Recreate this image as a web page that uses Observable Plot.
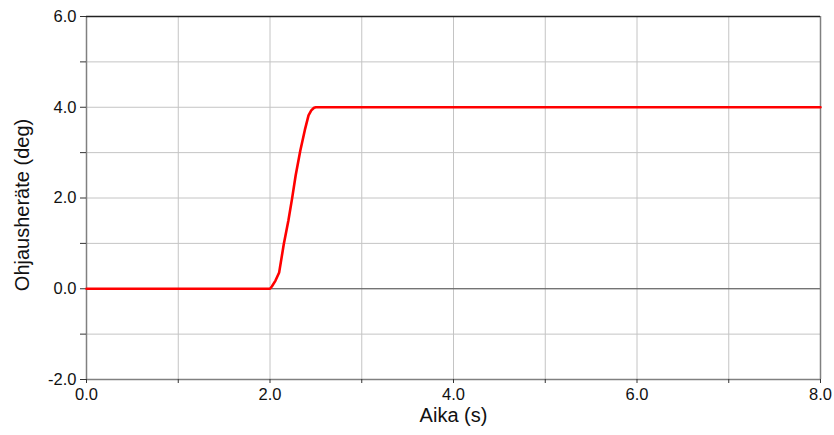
<!DOCTYPE html>
<html>
<head>
<meta charset="utf-8">
<script src="https://cdn.jsdelivr.net/npm/d3@7"></script>
<script src="https://cdn.jsdelivr.net/npm/@observablehq/plot@0.6"></script>
<style>
  html, body { margin: 0; padding: 0; background: #fff; }
  #chart svg { display: block; }
</style>
</head>
<body>
<div id="chart"></div>
<script>
// Data
const time  = [0.0, 1.0, 2.0, 2.02, 2.06, 2.10, 2.15, 2.20, 2.24, 2.28, 2.33, 2.38, 2.42, 2.45, 2.48, 2.50, 3.0, 5.0, 8.0];
const angle = [0.0, 0.0, 0.0, 0.05, 0.18, 0.36, 0.98, 1.5, 1.98, 2.5, 3.04, 3.5, 3.82, 3.93, 3.99, 4.0, 4.0, 4.0, 4.0];
const xTicks = [0, 1, 2, 3, 4, 5, 6, 7, 8];
const yTicks = [-2, -1, 0, 1, 2, 3, 4, 5, 6];
const xTickLabels = [0, 2, 4, 6, 8];
const yTickLabels = [-2, 0, 2, 4, 6];
const xLabel = "Aika (s)";
const yLabel = "Ohjausheräte (deg)";

const data = time.map((t, i) => ({t, v: angle[i]}));
const fmt = d => d.toFixed(1);

const chart = Plot.plot({
  width: 834,
  height: 435,
  marginLeft: 86,
  marginTop: 16,
  marginRight: 14,
  marginBottom: 56,
  style: {fontFamily: "'Liberation Sans', Arial, sans-serif", fontSize: "16.5px", color: "#000", background: "#fff"},
  x: {domain: [0, 8]},
  y: {domain: [-2, 6]},
  marks: [
    Plot.ruleX(xTicks, {stroke: "#c4c4c4", strokeWidth: 1}),
    Plot.ruleY(yTicks, {stroke: "#c4c4c4", strokeWidth: 1}),
    Plot.ruleY([0], {stroke: "#555", strokeWidth: 1}),
    Plot.ruleX([0], {stroke: "#808080", strokeWidth: 1.5}),
    Plot.ruleX([8], {stroke: "#808080", strokeWidth: 1.5}),
    Plot.ruleY([-2], {stroke: "#808080", strokeWidth: 1.5}),
    Plot.ruleY([6], {stroke: "#222", strokeWidth: 1.5}),
    Plot.axisX({ticks: xTicks, tickSize: 4, text: null, stroke: "#333", label: null}),
    Plot.axisY({ticks: yTicks, tickSize: 6, text: null, stroke: "#333", label: null}),
    Plot.text(xTickLabels, {x: d => d, text: fmt, frameAnchor: "bottom", lineAnchor: "top", dy: 9, fontSize: 16.5, fill: "#111"}),
    Plot.text(yTickLabels, {y: d => d, text: fmt, frameAnchor: "left", textAnchor: "end", dx: -10, fontSize: 16.5, fill: "#111"}),
    Plot.text([xLabel], {frameAnchor: "bottom", dy: 42, fontSize: 20, fill: "#111"}),
    Plot.text([yLabel], {frameAnchor: "left", textAnchor: "middle", dx: -64, dy: 7, rotate: -90, fontSize: 20, fill: "#111"}),
    Plot.line(data, {x: "t", y: "v", stroke: "#ff0000", strokeWidth: 2.6, curve: "linear"})
  ]
});
document.getElementById("chart").appendChild(chart);
</script>
</body>
</html>
